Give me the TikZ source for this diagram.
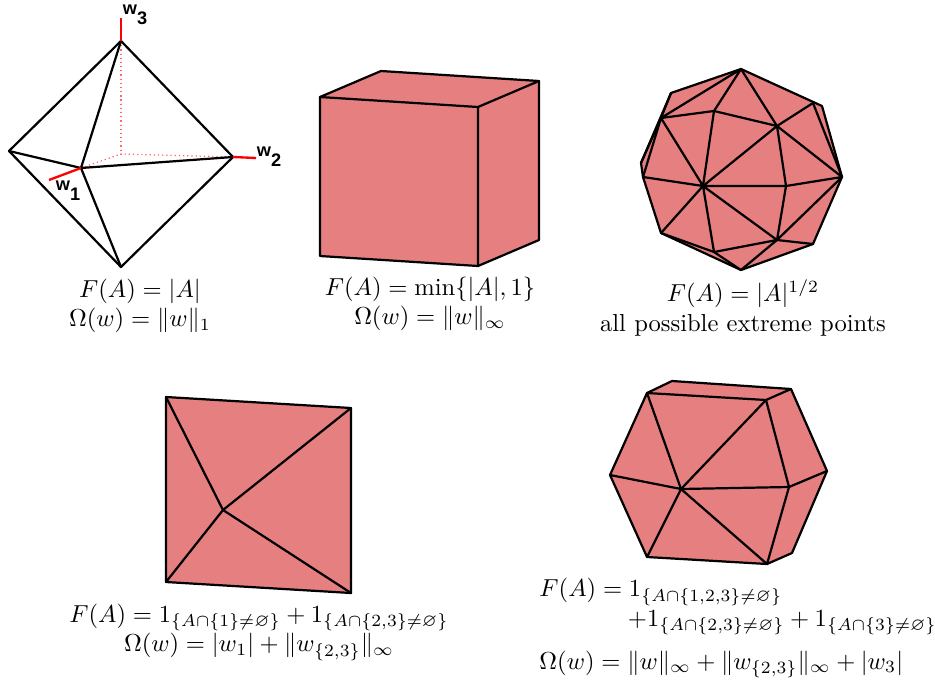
\documentclass[tikz,border=0pt]{standalone}
\usepackage{amsmath, amssymb}
\usepackage{fontspec}
\usepackage{xcolor}
\usepackage{tikz}
\newfontfamily\axisfont{Liberation Sans}
\definecolor{ballred}{HTML}{E67F7F}
\newcommand{\axislabel}[1]{\axisfont\bfseries w\raisebox{-4pt}{#1}}

\begin{document}
\begin{tikzpicture}[
  x=0.407pt, y=-0.407pt,
  edge/.style={draw=black, line width=0.9pt, line join=round, line cap=round},
  face/.style={fill=ballred, draw=black, line width=0.9pt, line join=round},
  axis/.style={draw=red, line width=0.95pt},
  hidden/.style={draw=red!60, line width=0.5pt, dash pattern=on 0.5pt off 1.2pt},
  axislab/.style={font=\fontsize{7.4}{8}\selectfont, inner sep=0pt},
  caption/.style={align=center, inner sep=0pt}
]
  \useasboundingbox (0,0) rectangle (935,681);

  % Octahedron
  \coordinate (otop) at (121,41);
  \coordinate (oleft) at (9,151);
  \coordinate (obot) at (121,267);
  \coordinate (oright) at (233,157);
  \coordinate (ofront) at (81,168);
  \coordinate (ocen) at (121,154);
  \coordinate (w1end) at (49,180);
  \coordinate (w2end) at (256,158);
  \coordinate (w3end) at (121,18);
  \draw[hidden] (otop) -- (ocen);
  \draw[hidden] (ofront) -- (ocen) -- (oright);
  \draw[edge] (otop) -- (oleft) -- (obot) -- (oright) -- cycle;
  \draw[edge] (otop) -- (ofront) -- (obot);
  \draw[edge] (oleft) -- (ofront) -- (oright);
  \draw[axis] (ofront) -- (w1end);
  \draw[axis] (oright) -- (w2end);
  \draw[axis] (otop) -- (w3end);
  \node[axislab] (w1) at (68,191) {\axislabel{1}};
  \node[axislab] (w2) at (269,157) {\axislabel{2}};
  \node[axislab] (w3) at (135,15) {\axislabel{3}};
  \node[caption] (cap1) at (140,306) {$F(A)=|A|$\\$\Omega(w)=\|w\|_1$};

  % Cube
  \coordinate (cftl) at (320,97);
  \coordinate (cftr) at (478,107);
  \coordinate (cfbr) at (478,266);
  \coordinate (cfbl) at (320,256);
  \coordinate (cbtl) at (381,71);
  \coordinate (cbtr) at (539,81);
  \coordinate (cbbr) at (539,240);
  \draw[face] (cftl) -- (cbtl) -- (cbtr) -- (cbbr) -- (cfbr) -- (cfbl) -- cycle;
  \draw[edge] (cftl) -- (cftr) -- (cfbr);
  \draw[edge] (cftr) -- (cbtr);
  \node[caption] (cap2) at (430,304) {$F(A)=\min\{|A|,1\}$\\$\Omega(w)=\|w\|_\infty$};

  % Many extreme points
  \coordinate (ptop) at (741,69);
  \coordinate (pa) at (714,111);
  \coordinate (pb) at (777,126);
  \coordinate (pc) at (703,186);
  \coordinate (pd) at (786,186);
  \coordinate (pe) at (777,240);
  \coordinate (pg) at (714,252);
  \coordinate (pl) at (661,118);
  \coordinate (pm) at (643,177);
  \coordinate (pn) at (641,163);
  \coordinate (po) at (671,93);
  \coordinate (pp) at (661,233);
  \coordinate (pr) at (842,177);
  \coordinate (ps) at (813,103);
  \coordinate (pt) at (822,106);
  \coordinate (pu) at (813,244);
  \coordinate (pbot) at (741,270);
  \draw[face] (ptop) -- (pt) -- (pr) -- (pu) -- (pbot) -- (pp) -- (pm) -- (pn) -- (po) -- cycle;
  \draw[edge] (pa) -- (ptop) -- (pl) -- (pa) -- (pb) -- (ptop);
  \draw[edge] (pa) -- (pc) -- (pl) -- (pm) -- (pc) -- (pp);
  \draw[edge] (po) -- (pl) -- (pn);
  \draw[edge] (pc) -- (pb) -- (pd) -- (pc) -- (pg) -- (pe) -- (pc);
  \draw[edge] (pb) -- (ps) -- (pr) -- (pb);
  \draw[edge] (pr) -- (pd) -- (pe) -- (pr);
  \draw[edge] (pe) -- (pu);
  \draw[edge] (pe) -- (pbot) -- (pg) -- (pp);
  \node[caption] (cap3) at (743,308) {$F(A)=|A|^{1/2}$\\all possible extreme points};

  % Two overlapping groups
  \coordinate (qtl) at (166,397);
  \coordinate (qtr) at (351,408);
  \coordinate (qbr) at (351,593);
  \coordinate (qbl) at (166,582);
  \coordinate (qc) at (223,510);
  \draw[face] (qtl) -- (qtr) -- (qbr) -- (qbl) -- cycle;
  \draw[edge] (qtl) -- (qc) -- (qbr);
  \draw[edge] (qtr) -- (qc) -- (qbl);
  \node[caption] (cap4) at (259,632) {$F(A)=1_{\{A\cap\{1\}\neq\varnothing\}}+1_{\{A\cap\{2,3\}\neq\varnothing\}}$\\$\Omega(w)=|w_1|+\|w_{\{2,3\}}\|_\infty$};

  % Hierarchical groups
  \coordinate (hbtl) at (672,381);
  \coordinate (hbtr) at (791,389);
  \coordinate (hright) at (827,471);
  \coordinate (hbr) at (792,553);
  \coordinate (hfbr) at (767,564);
  \coordinate (hfbl) at (647,557);
  \coordinate (hleft) at (610,475);
  \coordinate (hftl) at (647,393);
  \coordinate (hftr) at (766,400);
  \coordinate (hmid) at (789,487);
  \coordinate (hc) at (681,489);
  \draw[face] (hbtl) -- (hbtr) -- (hright) -- (hbr) -- (hfbr) -- (hfbl) -- (hleft) -- (hftl) -- cycle;
  \draw[edge] (hftl) -- (hftr) -- (hbtr);
  \draw[edge] (hftr) -- (hmid) -- (hright);
  \draw[edge] (hmid) -- (hfbr) -- (hc) -- (hfbl);
  \draw[edge] (hftl) -- (hc) -- (hleft);
  \draw[edge] (hftr) -- (hc) -- (hmid);
  \node[inner sep=0pt, align=left, anchor=north west] (cap5) at (539,578)
    {$F(A)=1_{\{A\cap\{1,2,3\}\neq\varnothing\}}$\\
     \hspace{36pt}$+1_{\{A\cap\{2,3\}\neq\varnothing\}}+1_{\{A\cap\{3\}\neq\varnothing\}}$\\[5.4pt]
     $\Omega(w)=\|w\|_\infty+\|w_{\{2,3\}}\|_\infty+|w_3|$};
\end{tikzpicture}
\end{document}
